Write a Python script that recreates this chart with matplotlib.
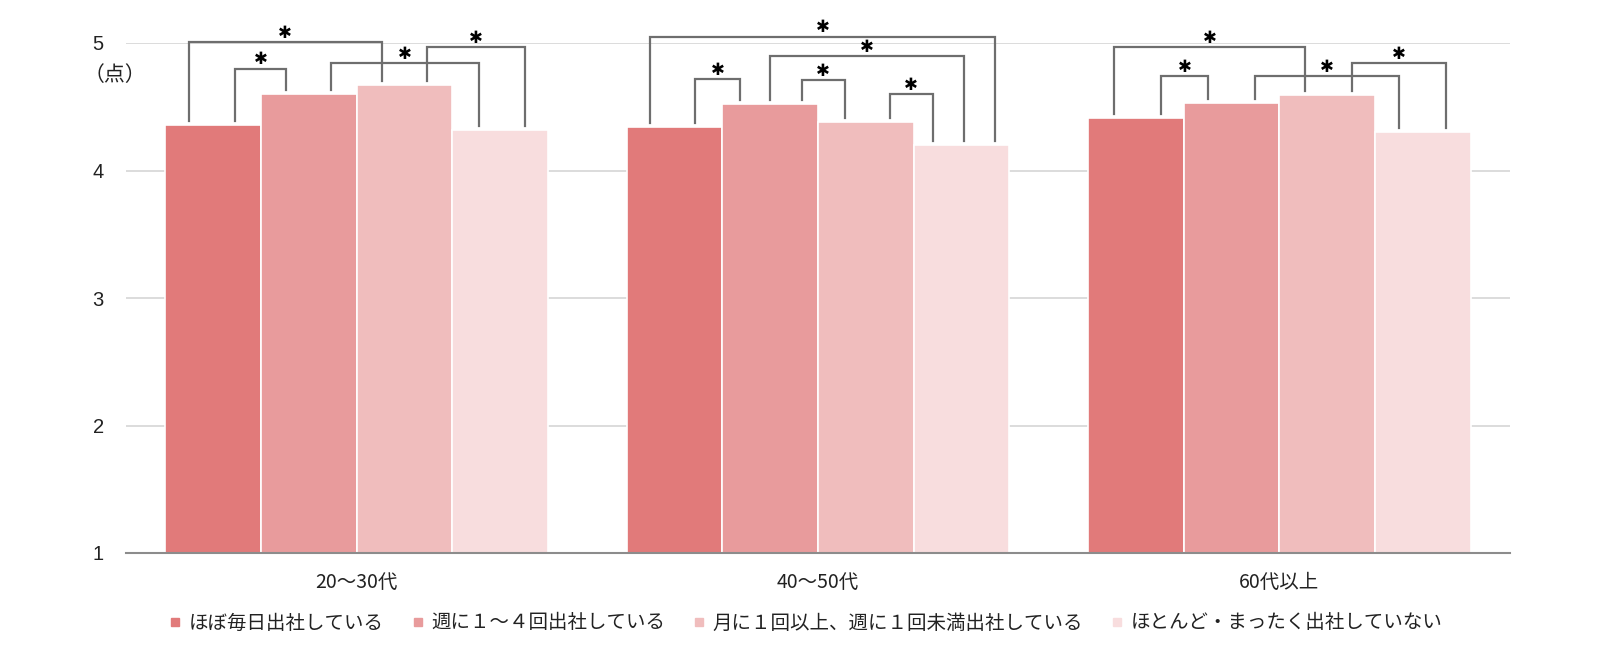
import matplotlib
matplotlib.use("Agg")
import matplotlib.pyplot as plt
from matplotlib.lines import Line2D
import numpy as np

plt.rcParams['font.family'] = ['Noto Sans CJK JP', 'DejaVu Sans']

# ---- data ----
groups = ["20～30代", "40～50代", "60代以上"]
series = ["ほぼ毎日出社している", "週に１～４回出社している",
          "月に１回以上、週に１回未満出社している", "ほとんど・まったく出社していない"]
values_daily = [4.36, 4.34, 4.41]
values_weekly = [4.60, 4.52, 4.53]
values_monthly = [4.67, 4.38, 4.59]
values_rarely = [4.32, 4.20, 4.30]
y_ticks = [1, 2, 3, 4, 5]
y_unit = "（点）"
star = "✱"

# significance brackets: (group, bar_a, bar_b, bracket level)
brackets = [
    (0, 0, 2, 5.005), (0, 0, 1, 4.80), (0, 1, 3, 4.84), (0, 2, 3, 4.97),
    (1, 0, 3, 5.05), (1, 0, 1, 4.72), (1, 1, 3, 4.90), (1, 1, 2, 4.71), (1, 2, 3, 4.60),
    (2, 0, 2, 4.97), (2, 0, 1, 4.74), (2, 1, 3, 4.74), (2, 2, 3, 4.84),
]
# attachment offsets within bars (fraction of bar width) – styling
bracket_offsets = [
    (-0.25, -0.24), (0.23, -0.235), (0.235, -0.22), (0.23, 0.26),
    (-0.25, 0.35), (0.22, -0.31), (0.0, 0.02), (0.33, -0.22), (0.25, -0.30),
    (-0.23, -0.23), (0.26, -0.24), (0.25, -0.25), (0.26, 0.24),
]

colors = ["#E17A7A", "#E89B9C", "#F0BDBD", "#F8DDDE"]
all_values = [values_daily, values_weekly, values_monthly, values_rarely]

fig = plt.figure(figsize=(16, 6.45), dpi=100)
ax = fig.add_axes([126/1600, 1-553/645, 1384/1600, 510/645])

x = np.arange(len(groups))
w = 0.2075
for i, (vals, c) in enumerate(zip(all_values, colors)):
    ax.bar(x + (i - 1.5) * w, np.array(vals) - 1, width=w, bottom=1, color=c,
           edgecolor="white", linewidth=1.2, zorder=2)

ax.set_xlim(-0.5, 2.5)
ax.set_ylim(1, 5)
ax.set_yticks(y_ticks)
ax.set_yticklabels([str(t) for t in y_ticks], fontsize=14.5, color="#222222",
                   family=['Liberation Sans', 'DejaVu Sans'])
ax.set_xticks(x)
ax.set_xticklabels(groups, fontsize=14, color="#222222")
ax.tick_params(axis='both', length=0)
ax.tick_params(axis='y', pad=16)
ax.tick_params(axis='x', pad=14)
ax.yaxis.grid(True, color="#D6D6D6", linewidth=1.2, zorder=0)
ax.set_axisbelow(True)
for s in ["top", "right", "left"]:
    ax.spines[s].set_visible(False)
ax.spines["bottom"].set_color("#8C8C8C")
ax.spines["bottom"].set_linewidth(1.5)
ax.spines["bottom"].set_zorder(3)

fig.text(115/1600, 1-75/645, y_unit, ha="center", va="center", fontsize=15, color="#222222")

# brackets
for (g, a, b, top), (oa, ob) in zip(brackets, bracket_offsets):
    xa = g + (a - 1.5) * w + oa * w
    xb = g + (b - 1.5) * w + ob * w
    ya = all_values[a][g] + 0.03
    yb = all_values[b][g] + 0.03
    ax.plot([xa, xa, xb, xb], [ya, top, top, yb], color="#6E6E6E", linewidth=1.6,
            clip_on=False, zorder=4, solid_joinstyle="miter")
    ax.annotate(star, xy=((xa + xb) / 2, top), xytext=(0, 3), textcoords="offset points",
                ha="center", va="baseline", fontsize=12,
                family="DejaVu Sans", color="black", annotation_clip=False, zorder=5)

handles = [Line2D([0], [0], marker="s", linestyle="none", markersize=6,
                  markerfacecolor=c, markeredgecolor=c) for c in colors]
fig.legend(handles, series, loc="center", bbox_to_anchor=(0.504, 1-623/645), ncol=4,
           frameon=False, fontsize=14, handlelength=0.5, handletextpad=0.45,
           columnspacing=1.5, borderaxespad=0, labelcolor="#222222")

fig.savefig("out.png", dpi=100, facecolor="white")
